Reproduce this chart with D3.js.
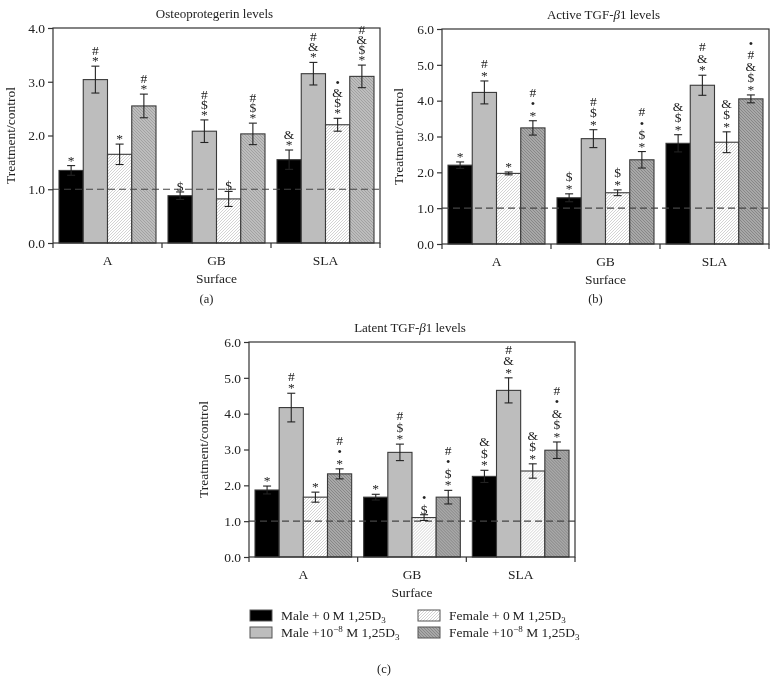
<!DOCTYPE html>
<html><head><meta charset="utf-8">
<script src="https://cdn.jsdelivr.net/npm/d3@7/dist/d3.min.js"></script>
<style>
body{margin:0;background:#fff;}
svg{filter:grayscale(100%);}
svg text{font-family:"Liberation Serif","DejaVu Serif",serif;fill:#222;}
</style></head>
<body><svg id="c" width="779" height="676"></svg>
<script>
const categories = ["A", "GB", "SLA"];
const seriesNames = ["Male + 0 M", "Male +10^-8 M", "Female + 0 M", "Female +10^-8 M"];
const yTicks = [0, 1, 2, 3, 4, 5, 6];

// Osteoprotegerin (a)
const opgValues = [[1.35, 3.04, 1.65, 2.55], [0.88, 2.08, 0.82, 2.03], [1.55, 3.15, 2.20, 3.10]];
const opgErrors = [[0.09, 0.25, 0.19, 0.22], [0.07, 0.21, 0.14, 0.20], [0.18, 0.21, 0.12, 0.21]];
const opgMarks = [[["*"], ["*", "#"], ["*"], ["*", "#"]],
                  [["$"], ["*", "$", "#"], ["$"], ["*", "$", "#"]],
                  [["*", "&"], ["*", "&", "#"], ["*", "$", "&", "•"], ["*", "$", "&", "#"]]];
// Active TGF-b1 (b)
const activeValues = [[2.20, 4.23, 1.97, 3.24], [1.29, 2.94, 1.43, 2.35], [2.81, 4.43, 2.84, 4.05]];
const activeErrors = [[0.09, 0.32, 0.04, 0.20], [0.11, 0.25, 0.08, 0.23], [0.24, 0.28, 0.29, 0.11]];
const activeMarks = [[["*"], ["*", "#"], ["*"], ["*", "•", "#"]],
                     [["*", "$"], ["*", "$", "#"], ["*", "$"], ["*", "$", "•", "#"]],
                     [["*", "$", "&"], ["*", "&", "#"], ["*", "$", "&"], ["*", "$", "&", "#", "•"]]];
// Latent TGF-b1 (c)
const latentValues = [[1.87, 4.17, 1.67, 2.32], [1.67, 2.92, 1.10, 1.67], [2.25, 4.65, 2.40, 2.98]];
const latentErrors = [[0.11, 0.40, 0.14, 0.14], [0.08, 0.23, 0.08, 0.19], [0.17, 0.35, 0.20, 0.23]];
const latentMarks = [[["*"], ["*", "#"], ["*"], ["*", "•", "#"]],
                     [["*"], ["*", "$", "#"], ["$", "•"], ["*", "$", "•", "#"]],
                     [["*", "$", "&"], ["*", "&", "#"], ["*", "$", "&"], ["*", "$", "&", "•", "#"]]];

const svg = d3.select("#c");
const defs = svg.append("defs");
function hatch(id, bg, line, dir, w) {
  const s = 3;
  const p = defs.append("pattern").attr("id", id).attr("patternUnits", "userSpaceOnUse")
    .attr("width", s).attr("height", s);
  p.append("rect").attr("width", s).attr("height", s).attr("fill", bg);
  const d = dir === "/" ? `M-1,1 l2,-2 M0,${s} l${s},-${s} M${s - 1},${s + 1} l2,-2`
                        : `M-1,${s - 1} l2,2 M0,0 l${s},${s} M${s - 1},-1 l2,2`;
  p.append("path").attr("d", d).attr("stroke", line).attr("stroke-width", w);
}
hatch("f0", "#ffffff", "#b5b5b5", "/", 0.6);
hatch("f8a", "#b6bfbc", "#87918d", "\\", 0.6);
hatch("f8", "#a8a8a8", "#707070", "\\", 0.6);

function panel(cfg) {
  const g = svg.append("g").attr("transform", `translate(${cfg.left},${cfg.top})`);
  const w = cfg.width, h = cfg.height;
  const x0 = d3.scaleBand().domain(categories).range([0, w]);
  const x1 = d3.scaleBand().domain(d3.range(4)).range([6, x0.bandwidth() - 6]);
  const y = d3.scaleLinear().domain([0, cfg.ymax]).range([h, 0]);
  const fills = ["#000000", "#bdbdbd", "url(#f0)", cfg.f8];

  categories.forEach((c, ci) => {
    const gg = g.append("g").attr("transform", `translate(${x0(c)},0)`);
    cfg.values[ci].forEach((v, si) => {
      const bx = x1(si), bw = x1.bandwidth();
      gg.append("rect").attr("x", bx).attr("y", y(v)).attr("width", bw).attr("height", h - y(v))
        .attr("fill", fills[si]).attr("stroke", "#3a3a3a").attr("stroke-width", 1.1);
    });
  });
  g.append("line").attr("x1", 0).attr("x2", w).attr("y1", y(1)).attr("y2", y(1))
    .attr("stroke", "#444").attr("stroke-width", 1.2).attr("stroke-dasharray", "7,4");
  categories.forEach((c, ci) => {
    const gg = g.append("g").attr("transform", `translate(${x0(c)},0)`);
    cfg.values[ci].forEach((v, si) => {
      const e = cfg.errors[ci][si];
      const cx = x1(si) + x1.bandwidth() / 2;
      gg.append("line").attr("x1", cx).attr("x2", cx).attr("y1", y(v - e)).attr("y2", y(v + e))
        .attr("stroke", "#222").attr("stroke-width", 1.1);
      [v - e, v + e].forEach(t => gg.append("line").attr("x1", cx - 4).attr("x2", cx + 4)
        .attr("y1", y(t)).attr("y2", y(t)).attr("stroke", "#222").attr("stroke-width", 1.1));
      cfg.marks[ci][si].forEach((m, mi) => {
        gg.append("text").attr("x", cx).attr("y", y(v + e) - 1 - mi * cfg.markStep)
          .attr("text-anchor", "middle").attr("font-size", m === "•" ? 12.5 : 13.5).text(m);
      });
    });
  });
  g.append("rect").attr("width", w).attr("height", h).attr("fill", "none")
    .attr("stroke", "#333").attr("stroke-width", 1.2);
  const ya = g.append("g").call(d3.axisLeft(y).tickValues(yTicks.filter(t => t <= cfg.ymax))
    .tickFormat(d3.format(".1f")).tickSize(5).tickPadding(3));
  ya.select(".domain").remove();
  ya.selectAll("line").attr("stroke", "#333").attr("stroke-width", 1.2);
  ya.selectAll("text").attr("font-size", 13.5).attr("fill", "#222")
    .style("font-family", '"Liberation Serif", serif');
  const xa = g.append("g").attr("transform", `translate(0,${h})`)
    .call(d3.axisBottom(x0).tickSize(0).tickPadding(12));
  xa.select(".domain").remove();
  xa.selectAll("text").attr("font-size", 13.5).attr("fill", "#222")
    .style("font-family", '"Liberation Serif", serif');
  const bounds = categories.map(c => x0(c)).concat([w]);
  g.selectAll(".bt").data(bounds).enter().append("line")
    .attr("x1", d => d).attr("x2", d => d).attr("y1", h).attr("y2", h + 5)
    .attr("stroke", "#333").attr("stroke-width", 1.2);
  const t = g.append("text").attr("x", w / 2 - 2).attr("y", -10).attr("text-anchor", "middle")
    .attr("font-size", 13);
  cfg.title.forEach(p => t.append("tspan").attr("font-style", p[1] ? "italic" : null).text(p[0]));
  g.append("text").attr("transform", `translate(${cfg.ylabX},${h / 2}) rotate(-90)`)
    .attr("text-anchor", "middle").attr("font-size", 13.5).text("Treatment/control");
  g.append("text").attr("x", w / 2).attr("y", h + 40).attr("text-anchor", "middle")
    .attr("font-size", 13.5).text("Surface");
  if (cfg.label) g.append("text").attr("x", w / 2 - 10).attr("y", h + cfg.labelDy)
    .attr("text-anchor", "middle").attr("font-size", 12.5).text(cfg.label);
}

panel({left: 53, top: 28, width: 327, height: 215, ymax: 4, values: opgValues, errors: opgErrors,
  marks: opgMarks, f8: "url(#f8a)", markStep: 10, title: [["Osteoprotegerin levels"]],
  ylabX: -38, label: "(a)", labelDy: 60});
panel({left: 442, top: 29, width: 327, height: 215, ymax: 6, values: activeValues, errors: activeErrors,
  marks: activeMarks, f8: "url(#f8)", markStep: 11.5, title: [["Active TGF-"], ["β", true], ["1 levels"]],
  ylabX: -39, label: "(b)", labelDy: 59});
panel({left: 249, top: 342, width: 326, height: 215, ymax: 6, values: latentValues, errors: latentErrors,
  marks: latentMarks, f8: "url(#f8)", markStep: 11.5, title: [["Latent TGF-"], ["β", true], ["1 levels"]],
  ylabX: -41, label: null});

const legFills = ["#000000", "#bdbdbd", "url(#f0)", "url(#f8)"];
const legPos = [[250, 610], [250, 627], [418, 610], [418, 627]];
const leg = svg.append("g");
seriesNames.forEach((s, i) => {
  const [lx, ly] = legPos[i];
  leg.append("rect").attr("x", lx).attr("y", ly).attr("width", 22).attr("height", 11)
    .attr("fill", legFills[i]).attr("stroke", "#555").attr("stroke-width", 1);
  const tx = leg.append("text").attr("x", lx + 31).attr("y", ly + 10).attr("font-size", 13.5);
  const parts = s.split("^");
  if (parts.length === 1) {
    tx.append("tspan").text(s.replace(" 0 M", " 0\u2009M") + " 1,25D");
  } else {
    tx.append("tspan").text(parts[0]);
    const rest = parts[1].split(" ");
    tx.append("tspan").attr("font-size", 9).attr("dy", -5).text(rest[0].replace("-", "\u2212"));
    tx.append("tspan").attr("dy", 5).text(" " + rest.slice(1).join(" ") + " 1,25D");
  }
  tx.append("tspan").attr("font-size", 9).attr("dy", 3).text("3");
});
svg.append("text").attr("x", 384).attr("y", 673).attr("text-anchor", "middle")
  .attr("font-size", 12.5).text("(c)");
</script></body></html>
